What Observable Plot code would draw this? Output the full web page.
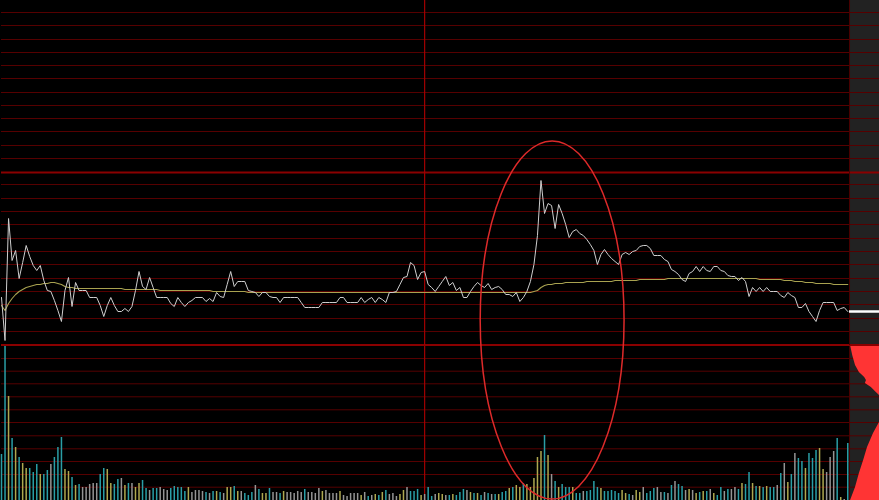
<!DOCTYPE html>
<html><head><meta charset="utf-8">
<script src="https://cdn.jsdelivr.net/npm/d3@7"></script>
<script src="https://cdn.jsdelivr.net/npm/@observablehq/plot@0.6"></script>
<style>
html,body{margin:0;padding:0;background:#000;}
#chart{width:879px;height:500px;position:relative;overflow:hidden;background:#000;}
#chart svg{display:block;}
</style></head><body><div id="chart"></div>
<script>
// ---- data (one value per trading minute, 241 minutes) ----
const price = [
18.75,18.32,19.54,19.12,19.22,18.94,19.10,19.27,19.16,19.07,
19.02,19.07,18.92,18.82,18.81,18.72,18.62,18.51,18.82,18.95,
18.66,18.90,18.82,18.82,18.82,18.75,18.75,18.75,18.67,18.56,
18.67,18.75,18.67,18.61,18.61,18.64,18.61,18.66,18.82,19.01,
18.86,18.83,18.95,18.85,18.75,18.75,18.75,18.75,18.69,18.66,
18.75,18.70,18.66,18.70,18.72,18.75,18.75,18.75,18.71,18.74,
18.71,18.80,18.76,18.75,18.88,19.01,18.86,18.91,18.91,18.91,
18.82,18.81,18.80,18.76,18.80,18.80,18.76,18.75,18.75,18.70,
18.75,18.75,18.75,18.75,18.75,18.70,18.65,18.65,18.65,18.65,
18.65,18.70,18.70,18.70,18.70,18.70,18.75,18.75,18.70,18.70,
18.70,18.70,18.75,18.70,18.73,18.75,18.70,18.75,18.73,18.70,
18.80,18.80,18.81,18.88,18.95,18.96,19.10,19.07,18.93,19.00,
19.01,18.88,18.85,18.81,18.86,18.91,18.96,18.87,18.90,18.82,
18.85,18.75,18.75,18.81,18.86,18.90,18.87,18.85,18.89,18.83,
18.85,18.86,18.83,18.78,18.78,18.76,18.80,18.71,18.75,18.81,
18.91,19.08,19.37,19.92,19.59,19.69,19.67,19.44,19.68,19.59,
19.48,19.35,19.41,19.43,19.39,19.37,19.33,19.28,19.22,19.08,
19.18,19.23,19.18,19.14,19.11,19.08,19.18,19.20,19.18,19.21,
19.22,19.26,19.27,19.27,19.24,19.17,19.17,19.17,19.13,19.11,
19.03,19.01,18.98,18.93,18.91,18.99,19.01,19.06,19.01,19.06,
19.02,19.01,19.06,19.06,19.02,19.01,18.97,18.96,18.96,18.92,
18.95,18.91,18.76,18.85,18.81,18.85,18.81,18.85,18.81,18.81,
18.81,18.77,18.75,18.80,18.77,18.75,18.65,18.65,18.69,18.61,
18.56,18.51,18.62,18.70,18.70,18.70,18.70,18.62,18.64,18.65,18.61
];
const avgPrice = [
18.67,18.62,18.69,18.74,18.78,18.81,18.83,18.85,18.86,18.87,
18.88,18.88,18.89,18.89,18.90,18.90,18.89,18.88,18.86,18.85,
18.85,18.84,18.84,18.84,18.84,18.84,18.84,18.84,18.84,18.84,
18.84,18.84,18.84,18.84,18.84,18.83,18.83,18.83,18.83,18.83,
18.83,18.83,18.83,18.83,18.83,18.82,18.82,18.82,18.82,18.82,
18.82,18.82,18.82,18.82,18.82,18.82,18.82,18.82,18.82,18.82,
18.81,18.81,18.81,18.81,18.81,18.81,18.81,18.81,18.81,18.81,
18.80,18.80,18.80,18.80,18.80,18.80,18.80,18.80,18.80,18.80,
18.80,18.80,18.80,18.80,18.80,18.80,18.80,18.80,18.80,18.80,
18.80,18.80,18.80,18.80,18.80,18.80,18.80,18.80,18.80,18.80,
18.80,18.80,18.80,18.80,18.80,18.80,18.80,18.80,18.80,18.80,
18.80,18.80,18.80,18.80,18.80,18.80,18.80,18.80,18.80,18.80,
18.80,18.80,18.80,18.80,18.80,18.80,18.80,18.80,18.80,18.80,
18.80,18.80,18.80,18.80,18.80,18.80,18.80,18.80,18.80,18.80,
18.80,18.80,18.80,18.80,18.80,18.80,18.80,18.80,18.80,18.80,
18.80,18.81,18.82,18.85,18.87,18.88,18.88,18.89,18.89,18.89,
18.90,18.90,18.90,18.90,18.90,18.90,18.91,18.91,18.91,18.91,
18.91,18.91,18.91,18.91,18.92,18.92,18.92,18.92,18.92,18.92,
18.92,18.93,18.93,18.93,18.93,18.93,18.93,18.93,18.93,18.94,
18.94,18.94,18.94,18.94,18.94,18.94,18.94,18.94,18.94,18.94,
18.94,18.94,18.94,18.94,18.94,18.94,18.94,18.94,18.94,18.94,
18.94,18.94,18.94,18.94,18.94,18.93,18.93,18.93,18.93,18.93,
18.93,18.93,18.92,18.92,18.92,18.91,18.91,18.91,18.90,18.90,
18.90,18.89,18.89,18.89,18.89,18.89,18.88,18.88,18.88,18.88,18.88
];
const volume = [
46,155,104,62,53,43,37,32,32,28,
36,26,26,30,36,43,53,63,31,29,
23,15,16,13,13,16,17,17,26,32,
31,17,16,21,22,15,17,17,13,17,
20,12,10,12,12,13,11,10,12,14,
13,13,9,13,8,10,10,9,8,7,
9,9,8,7,13,13,14,9,9,7,
5,8,15,11,7,7,12,8,8,7,
9,8,8,7,9,8,11,8,8,7,
12,9,10,7,7,7,9,5,4,7,
7,7,5,8,4,5,6,5,8,10,
6,7,4,6,10,13,9,9,11,5,
6,13,4,6,7,6,5,5,6,5,
8,11,10,8,7,7,5,8,7,6,
6,6,8,9,12,13,15,13,17,16,
13,22,43,49,65,45,26,19,13,16,
13,13,13,7,7,9,9,10,19,13,
12,9,9,10,9,7,10,7,6,5,
10,8,13,7,9,12,13,8,8,7,
15,19,16,14,10,11,10,7,8,9,
9,11,7,5,13,9,11,11,13,11,
17,16,28,17,14,14,13,14,13,13,
15,27,37,18,26,47,42,39,32,47,
42,50,52,31,28,43,49,62,3,1,57
];
// u = up (yellow), d = down (teal), n = unchanged (grey)
const direction = (
"ddududuudd"+"duddnddduu"+"dudnnnnndd"+"uuddnudnuu"+"ddnddnnndd"+
"dddunnnndn"+"dudnuudund"+"ddnduudnnd"+"unnnnndnnn"+"nunnnnunnn"+
"nnundnudud"+"nnnuundddu"+"nddnuundud"+"ddnududndn"+"dudduduudu"+
"uuuudundud"+"dduddndddd"+"uddddduudn"+"uundddnndn"+"dnddnunudu"+
"dnuddndnnd"+"uddudududd"+"ndnudnddud"+"dduunnndund").split("");

const preClose = 20.00;
const priceDomain = [18.27, 21.72];
const priceGrid = [21.60,21.47,21.33,21.20,21.07,20.94,20.80,20.67,20.54,20.41,20.27,20.14,
                   19.88,19.74,19.61,19.48,19.34,19.21,19.08,18.94,18.81,18.68,18.54,18.41];
const panelFloor = 18.275;
const volumeDomain = [0, 155];
const volumeGrid = [13.3,26,39,51.7,64.7,78,90.7,103.7,116.7,129.3,142];
const minuteDomain = [0, 249];
const middayMinute = 120;
const sidePanel = [240.5, 249];
// side strength bars (level in volume units, left edge in minutes)
const sellLevel = [155,145,135,128,123,120,117,113,108,105];
const sellEdge  = [240.8,241.4,242.2,243.3,244.8,245.3,245.0,246.7,248.1,249.0];
const buyLevel  = [78,67,53,40,27,13,0];
const buyEdge   = [249.0,247.3,245.6,244.5,243.3,242.2,240.8];
// highlight ellipse (centre in minute/price, radii in minute/price)
const highlight = {cx: 156.3, cy: 18.52, rx: 20.4, ry: 1.79};

const colors = {u: "#aea850", d: "#2a9ea6", n: "#949494"};
const gridColor = "#560000";

const rows = price.map((p, i) => ({m: i, price: p, avg: avgPrice[i], vol: volume[i], dir: direction[i]}));
const sell = sellLevel.map((l, i) => ({level: l, edge: sellEdge[i]}));
const buy = buyLevel.map((l, i) => ({level: l, edge: buyEdge[i]}));

function ellipseMark(index, scales) {
  const cx = scales.x(highlight.cx), cy = scales.y(highlight.cy);
  const rx = scales.x(highlight.cx + highlight.rx) - cx;
  const ry = scales.y(highlight.cy - highlight.ry) - cy;
  const e = document.createElementNS("http://www.w3.org/2000/svg", "ellipse");
  e.setAttribute("cx", cx); e.setAttribute("cy", cy);
  e.setAttribute("rx", Math.abs(rx)); e.setAttribute("ry", Math.abs(ry));
  e.setAttribute("fill", "none"); e.setAttribute("stroke", "#dd2a2a"); e.setAttribute("stroke-width", 1.5);
  return e;
}

const pricePlot = Plot.plot({
  width: 879, height: 345,
  marginTop: 0, marginBottom: 0, marginLeft: 1, marginRight: 0,
  style: {background: "#000", overflow: "visible", position: "relative", zIndex: 2},
  x: {domain: minuteDomain, axis: null},
  y: {domain: priceDomain, axis: null},
  marks: [
    Plot.rect([0], {x1: sidePanel[0], x2: sidePanel[1], y1: priceDomain[0], y2: priceDomain[1], fill: "#222"}),
    Plot.ruleY(priceGrid, {stroke: gridColor, strokeWidth: 1}),
    Plot.ruleY([preClose], {stroke: "#8a0000", strokeWidth: 2}),
    Plot.ruleY([panelFloor], {stroke: "#8a0000", strokeWidth: 2}),
    Plot.ruleX([middayMinute], {stroke: "#a00000", strokeWidth: 1.2}),
    Plot.ruleX([sidePanel[0]], {stroke: "#4a0000", strokeWidth: 1}),
    Plot.line(rows, {x: "m", y: "avg", stroke: "#a8a250", strokeWidth: 1.1}),
    Plot.line(rows, {x: "m", y: "price", stroke: "#cfcfcf", strokeWidth: 1}),
    Plot.ruleY([price[price.length - 1]], {x1: sidePanel[0], x2: sidePanel[1], stroke: "#fff", strokeWidth: 2.5}),
    ellipseMark
  ]
});

const volumePlot = Plot.plot({
  width: 879, height: 155,
  marginTop: 0, marginBottom: 0, marginLeft: 1, marginRight: 0,
  style: {background: "#000"},
  x: {domain: minuteDomain, axis: null},
  y: {domain: volumeDomain, axis: null},
  marks: [
    Plot.rect([0], {x1: sidePanel[0], x2: sidePanel[1], y1: volumeDomain[0], y2: volumeDomain[1], fill: "#222"}),
    Plot.ruleY(volumeGrid, {stroke: gridColor, strokeWidth: 1}),
    Plot.ruleX([middayMinute], {stroke: "#a00000", strokeWidth: 1.2}),
    Plot.ruleX([sidePanel[0]], {stroke: "#4a0000", strokeWidth: 1}),
    Plot.ruleX(rows, {x: "m", y1: 0, y2: "vol", stroke: d => colors[d.dir], strokeWidth: 1.5}),
    Plot.areaX(sell, {y: "level", x1: "edge", x2: sidePanel[1], fill: "#ff3434"}),
    Plot.areaX(buy, {y: "level", x1: "edge", x2: sidePanel[1], fill: "#ff3434"})
  ]
});

const chart = document.getElementById("chart");
chart.appendChild(pricePlot);
chart.appendChild(volumePlot);
</script>
</body></html>
